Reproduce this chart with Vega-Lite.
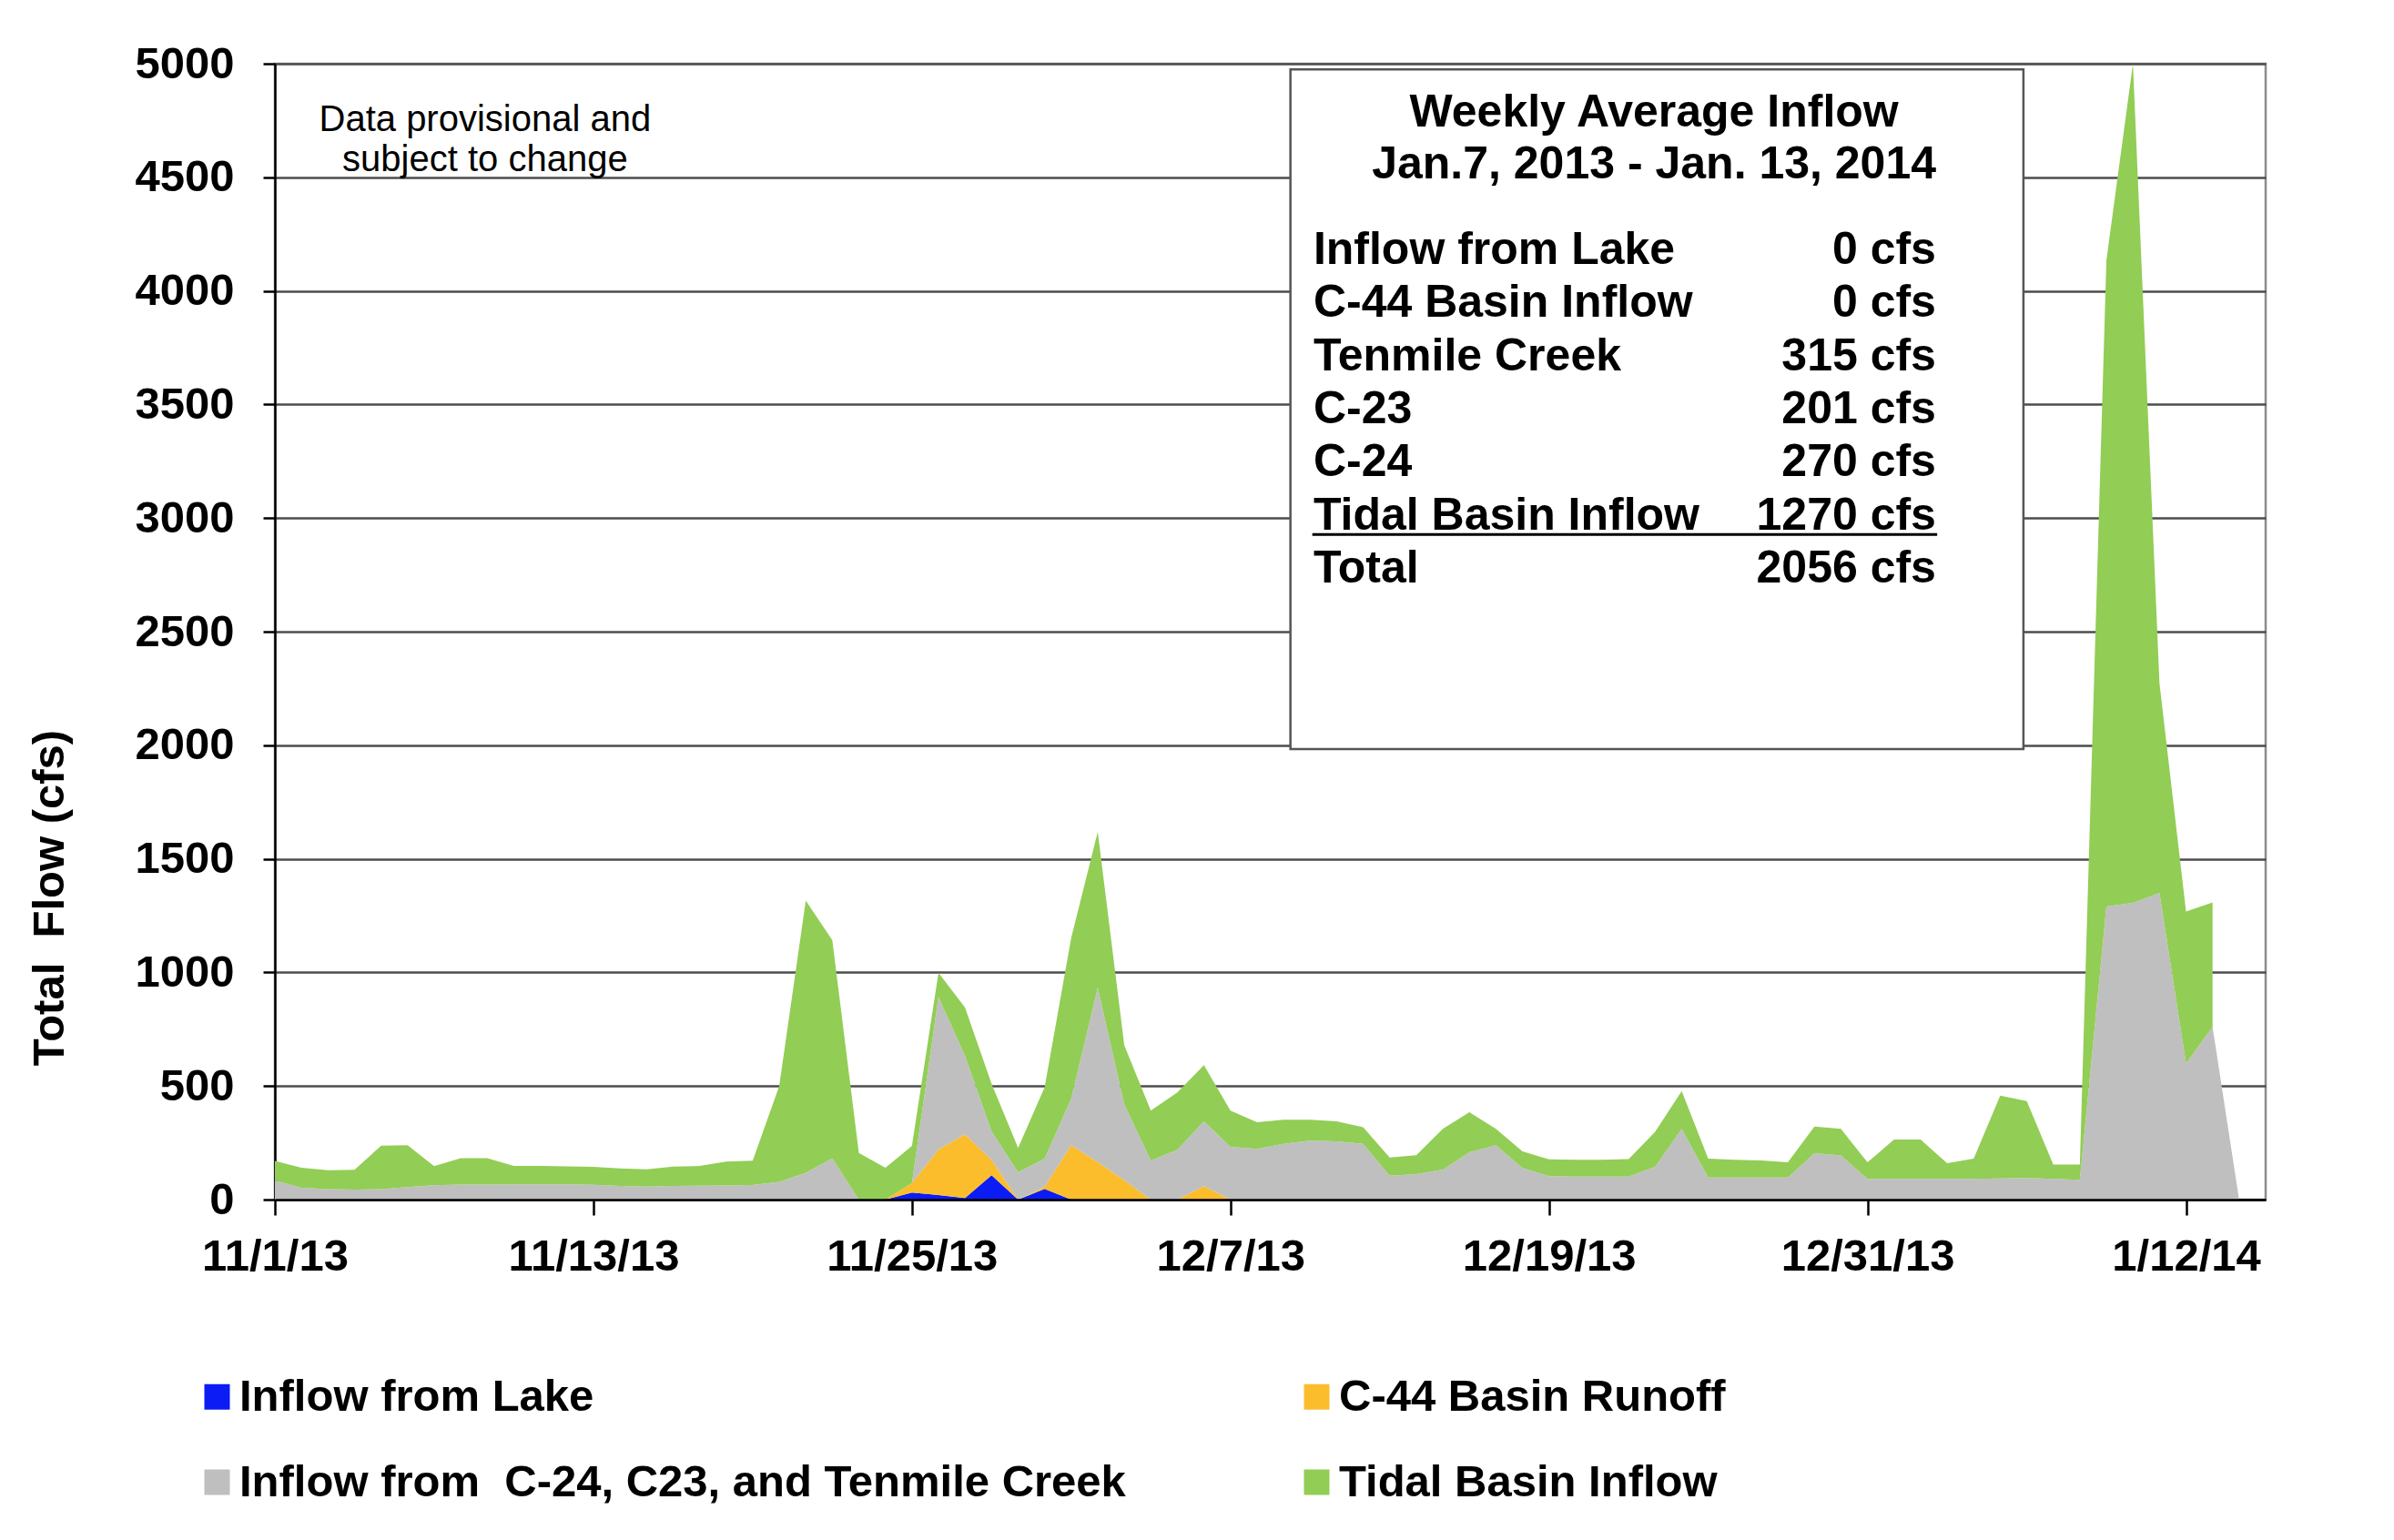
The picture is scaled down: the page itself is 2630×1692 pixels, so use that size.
{
  "$schema": "https://vega.github.io/schema/vega-lite/v6.json",
  "width": 2187,
  "height": 1248,
  "autosize": {"type": "none"},
  "padding": {"left": 302, "top": 70, "right": 141, "bottom": 374},
  "background": "white",
  "config": {
    "font": "Liberation Sans",
    "view": {"stroke": "#8c8c8c", "strokeWidth": 2.5}
  },
  "layer": [
    {
      "data": {
        "values": [
          {"date": "2013-11-01", "lake": 0, "runoff": 0, "streams": 84, "tidal": 86},
          {"date": "2013-11-02", "lake": 0, "runoff": 0, "streams": 52, "tidal": 88},
          {"date": "2013-11-03", "lake": 0, "runoff": 0, "streams": 46, "tidal": 83},
          {"date": "2013-11-04", "lake": 0, "runoff": 0, "streams": 44, "tidal": 87},
          {"date": "2013-11-05", "lake": 0, "runoff": 0, "streams": 46, "tidal": 191},
          {"date": "2013-11-06", "lake": 0, "runoff": 0, "streams": 55, "tidal": 184},
          {"date": "2013-11-07", "lake": 0, "runoff": 0, "streams": 63, "tidal": 84},
          {"date": "2013-11-08", "lake": 0, "runoff": 0, "streams": 66, "tidal": 116},
          {"date": "2013-11-09", "lake": 0, "runoff": 0, "streams": 66, "tidal": 116},
          {"date": "2013-11-10", "lake": 0, "runoff": 0, "streams": 67, "tidal": 81},
          {"date": "2013-11-11", "lake": 0, "runoff": 0, "streams": 67, "tidal": 81},
          {"date": "2013-11-12", "lake": 0, "runoff": 0, "streams": 67, "tidal": 79},
          {"date": "2013-11-13", "lake": 0, "runoff": 0, "streams": 65, "tidal": 79},
          {"date": "2013-11-14", "lake": 0, "runoff": 0, "streams": 60, "tidal": 77},
          {"date": "2013-11-15", "lake": 0, "runoff": 0, "streams": 57, "tidal": 76},
          {"date": "2013-11-16", "lake": 0, "runoff": 0, "streams": 60, "tidal": 85},
          {"date": "2013-11-17", "lake": 0, "runoff": 0, "streams": 61, "tidal": 87},
          {"date": "2013-11-18", "lake": 0, "runoff": 0, "streams": 62, "tidal": 105},
          {"date": "2013-11-19", "lake": 0, "runoff": 0, "streams": 64, "tidal": 107},
          {"date": "2013-11-20", "lake": 0, "runoff": 0, "streams": 78, "tidal": 422},
          {"date": "2013-11-21", "lake": 0, "runoff": 0, "streams": 118, "tidal": 1198},
          {"date": "2013-11-22", "lake": 0, "runoff": 0, "streams": 181, "tidal": 961},
          {"date": "2013-11-23", "lake": 0, "runoff": 0, "streams": 0, "tidal": 205},
          {"date": "2013-11-24", "lake": 0, "runoff": 0, "streams": 0, "tidal": 140},
          {"date": "2013-11-25", "lake": 31, "runoff": 42, "streams": 0, "tidal": 163},
          {"date": "2013-11-26", "lake": 20, "runoff": 200, "streams": 672, "tidal": 107},
          {"date": "2013-11-27", "lake": 7, "runoff": 280, "streams": 345, "tidal": 213},
          {"date": "2013-11-28", "lake": 107, "runoff": 67, "streams": 126, "tidal": 210},
          {"date": "2013-11-29", "lake": 0, "runoff": 0, "streams": 120, "tidal": 107},
          {"date": "2013-11-30", "lake": 47, "runoff": 10, "streams": 123, "tidal": 315},
          {"date": "2013-12-01", "lake": 0, "runoff": 239, "streams": 206, "tidal": 707},
          {"date": "2013-12-02", "lake": 0, "runoff": 165, "streams": 767, "tidal": 687},
          {"date": "2013-12-03", "lake": 0, "runoff": 85, "streams": 334, "tidal": 260},
          {"date": "2013-12-04", "lake": 0, "runoff": 0, "streams": 172, "tidal": 220},
          {"date": "2013-12-05", "lake": 0, "runoff": 0, "streams": 219, "tidal": 253},
          {"date": "2013-12-06", "lake": 0, "runoff": 59, "streams": 286, "tidal": 247},
          {"date": "2013-12-07", "lake": 0, "runoff": 0, "streams": 232, "tidal": 160},
          {"date": "2013-12-08", "lake": 0, "runoff": 0, "streams": 223, "tidal": 118},
          {"date": "2013-12-09", "lake": 0, "runoff": 0, "streams": 245, "tidal": 107},
          {"date": "2013-12-10", "lake": 0, "runoff": 0, "streams": 259, "tidal": 93},
          {"date": "2013-12-11", "lake": 0, "runoff": 0, "streams": 256, "tidal": 89},
          {"date": "2013-12-12", "lake": 0, "runoff": 0, "streams": 245, "tidal": 74},
          {"date": "2013-12-13", "lake": 0, "runoff": 0, "streams": 105, "tidal": 80},
          {"date": "2013-12-14", "lake": 0, "runoff": 0, "streams": 112, "tidal": 83},
          {"date": "2013-12-15", "lake": 0, "runoff": 0, "streams": 132, "tidal": 180},
          {"date": "2013-12-16", "lake": 0, "runoff": 0, "streams": 208, "tidal": 177},
          {"date": "2013-12-17", "lake": 0, "runoff": 0, "streams": 239, "tidal": 73},
          {"date": "2013-12-18", "lake": 0, "runoff": 0, "streams": 139, "tidal": 73},
          {"date": "2013-12-19", "lake": 0, "runoff": 0, "streams": 103, "tidal": 74},
          {"date": "2013-12-20", "lake": 0, "runoff": 0, "streams": 101, "tidal": 74},
          {"date": "2013-12-21", "lake": 0, "runoff": 0, "streams": 101, "tidal": 74},
          {"date": "2013-12-22", "lake": 0, "runoff": 0, "streams": 101, "tidal": 77},
          {"date": "2013-12-23", "lake": 0, "runoff": 0, "streams": 144, "tidal": 154},
          {"date": "2013-12-24", "lake": 0, "runoff": 0, "streams": 311, "tidal": 167},
          {"date": "2013-12-25", "lake": 0, "runoff": 0, "streams": 97, "tidal": 83},
          {"date": "2013-12-26", "lake": 0, "runoff": 0, "streams": 97, "tidal": 78},
          {"date": "2013-12-27", "lake": 0, "runoff": 0, "streams": 97, "tidal": 75},
          {"date": "2013-12-28", "lake": 0, "runoff": 0, "streams": 97, "tidal": 67},
          {"date": "2013-12-29", "lake": 0, "runoff": 0, "streams": 204, "tidal": 118},
          {"date": "2013-12-30", "lake": 0, "runoff": 0, "streams": 194, "tidal": 117},
          {"date": "2013-12-31", "lake": 0, "runoff": 0, "streams": 91, "tidal": 73},
          {"date": "2014-01-01", "lake": 0, "runoff": 0, "streams": 91, "tidal": 173},
          {"date": "2014-01-02", "lake": 0, "runoff": 0, "streams": 91, "tidal": 173},
          {"date": "2014-01-03", "lake": 0, "runoff": 0, "streams": 91, "tidal": 69},
          {"date": "2014-01-04", "lake": 0, "runoff": 0, "streams": 91, "tidal": 89},
          {"date": "2014-01-05", "lake": 0, "runoff": 0, "streams": 93, "tidal": 365},
          {"date": "2014-01-06", "lake": 0, "runoff": 0, "streams": 95, "tidal": 339},
          {"date": "2014-01-07", "lake": 0, "runoff": 0, "streams": 91, "tidal": 63},
          {"date": "2014-01-08", "lake": 0, "runoff": 0, "streams": 87, "tidal": 67},
          {"date": "2014-01-09", "lake": 0, "runoff": 0, "streams": 1290, "tidal": 2844},
          {"date": "2014-01-10", "lake": 0, "runoff": 0, "streams": 1306, "tidal": 3694},
          {"date": "2014-01-11", "lake": 0, "runoff": 0, "streams": 1350, "tidal": 923},
          {"date": "2014-01-12", "lake": 0, "runoff": 0, "streams": 600, "tidal": 668},
          {"date": "2014-01-13", "lake": 0, "runoff": 0, "streams": 760, "tidal": 548},
          {"date": "2014-01-14", "lake": 0, "runoff": 0, "streams": 0, "tidal": null}
        ]
      },
      "transform": [
        {"fold": ["lake", "runoff", "streams", "tidal"], "as": ["series", "flow"]},
        {"filter": "isValid(datum.flow)"},
        {"stack": "flow", "groupby": ["date"], "sort": [{"field": "series", "order": "ascending"}], "as": ["y0", "y1"]}
      ],
      "mark": {"type": "area", "opacity": 1, "interpolate": "linear"},
      "encoding": {
        "x": {
          "field": "date",
          "type": "temporal",
          "scale": {
            "type": "utc",
            "nice": false,
            "domain": [
              {"year": 2013, "month": 11, "date": 1, "utc": true},
              {"year": 2014, "month": 1, "date": 15, "utc": true}
            ]
          },
          "axis": {
            "title": null,
            "grid": false,
            "values": [
              {"year": 2013, "month": 11, "date": 1, "utc": true},
              {"year": 2013, "month": 11, "date": 13, "utc": true},
              {"year": 2013, "month": 11, "date": 25, "utc": true},
              {"year": 2013, "month": 12, "date": 7, "utc": true},
              {"year": 2013, "month": 12, "date": 19, "utc": true},
              {"year": 2013, "month": 12, "date": 31, "utc": true},
              {"year": 2014, "month": 1, "date": 12, "utc": true}
            ],
            "format": "%-m/%-d/%y",
            "labelFont": "Liberation Sans",
            "labelFontSize": 49,
            "labelFontWeight": "bold",
            "labelColor": "black",
            "labelPadding": 21,
            "labelLimit": 1000,
            "labelFlush": false,
            "labelOverlap": false,
            "tickSize": 17,
            "tickWidth": 2.5,
            "tickColor": "black",
            "domainColor": "black",
            "domainWidth": 2.5,
            "zindex": 1
          }
        },
        "y": {
          "field": "y1",
          "type": "quantitative",
          "scale": {"domain": [0, 5000], "nice": false},
          "axis": {
            "title": "Total\u00a0 Flow (cfs)",
            "titleFont": "Liberation Sans",
            "titleFontSize": 49,
            "titleFontWeight": "bold",
            "titleColor": "black",
            "titleX": -248,
            "titleY": 916,
            "titleAlign": "center",
            "titleBaseline": "middle",
            "values": [0, 500, 1000, 1500, 2000, 2500, 3000, 3500, 4000, 4500, 5000],
            "format": "d",
            "labelFont": "Liberation Sans",
            "labelFontSize": 49,
            "labelFontWeight": "bold",
            "labelColor": "black",
            "labelPadding": 32,
            "labelLimit": 1000,
            "tickSize": 13,
            "tickWidth": 2.5,
            "tickColor": "black",
            "domainColor": "black",
            "domainWidth": 2.5,
            "grid": true,
            "gridColor": "#4d4d4d",
            "gridWidth": 2.5,
            "zindex": 0
          }
        },
        "y2": {"field": "y0"},
        "color": {
          "field": "series",
          "type": "nominal",
          "scale": {
            "domain": ["lake", "streams", "runoff", "tidal"],
            "range": ["#0b1cf4", "#bfbfbf", "#fbbd2c", "#92cd55"]
          },
          "legend": {
            "orient": "none",
            "legendX": -88,
            "legendY": 1440,
            "columns": 2,
            "title": null,
            "padding": 0,
            "symbolType": "square",
            "symbolSize": 784,
            "symbolStrokeWidth": 0,
            "symbolOpacity": 1,
            "labelFont": "Liberation Sans",
            "labelFontSize": 49,
            "labelFontWeight": "bold",
            "labelColor": "black",
            "labelLimit": 3000,
            "labelOffset": 0,
            "rowPadding": 44,
            "columnPadding": 185,
            "labelExpr": "datum.label == 'lake' ? 'Inflow from Lake' : datum.label == 'runoff' ? 'C-44 Basin Runoff' : datum.label == 'streams' ? 'Inflow from\u00a0 C-24, C23, and Tenmile Creek' : 'Tidal Basin Inflow'"
          }
        }
      }
    },
    {
      "data": {"values": [{}]},
      "mark": {"type": "rect", "fill": "white", "stroke": "#555555", "strokeWidth": 2.5},
      "encoding": {
        "x": {"datum": {"year": 2013, "month": 12, "date": 9, "hours": 6, "minutes": 14, "utc": true}, "type": "temporal"},
        "x2": {"datum": {"year": 2014, "month": 1, "date": 5, "hours": 21, "utc": true}},
        "y": {"datum": 4975, "type": "quantitative"},
        "y2": {"datum": 1983}
      }
    },
    {
      "data": {"values": [{}]},
      "mark": {"type": "text", "align": "center", "baseline": "alphabetic", "font": "Liberation Sans", "fontSize": 50, "fontWeight": "bold", "color": "black", "lineHeight": 57},
      "encoding": {
        "x": {"datum": {"year": 2013, "month": 12, "date": 22, "hours": 23, "utc": true}, "type": "temporal"},
        "y": {"datum": 4722, "type": "quantitative"},
        "text": {"value": ["Weekly Average Inflow", "Jan.7, 2013 - Jan. 13, 2014"]}
      }
    },
    {
      "data": {"values": [{}]},
      "mark": {"type": "text", "align": "left", "baseline": "alphabetic", "font": "Liberation Sans", "fontSize": 50, "fontWeight": "bold", "color": "black", "lineHeight": 58.3},
      "encoding": {
        "x": {"datum": {"year": 2013, "month": 12, "date": 10, "hours": 3, "utc": true}, "type": "temporal"},
        "y": {"datum": 4118, "type": "quantitative"},
        "text": {"value": ["Inflow from Lake", "C-44 Basin Inflow", "Tenmile Creek", "C-23", "C-24", "Tidal Basin Inflow", "Total"]}
      }
    },
    {
      "data": {"values": [{}]},
      "mark": {"type": "text", "align": "right", "baseline": "alphabetic", "font": "Liberation Sans", "fontSize": 50, "fontWeight": "bold", "color": "black", "lineHeight": 58.3},
      "encoding": {
        "x": {"datum": {"year": 2014, "month": 1, "date": 2, "hours": 14, "utc": true}, "type": "temporal"},
        "y": {"datum": 4118, "type": "quantitative"},
        "text": {"value": ["0 cfs", "0 cfs", "315 cfs", "201 cfs", "270 cfs", "1270 cfs", "2056 cfs"]}
      }
    },
    {
      "data": {"values": [{}]},
      "mark": {"type": "rule", "strokeWidth": 3, "color": "black"},
      "encoding": {
        "x": {"datum": {"year": 2013, "month": 12, "date": 10, "hours": 2, "utc": true}, "type": "temporal"},
        "x2": {"datum": {"year": 2014, "month": 1, "date": 2, "hours": 15, "utc": true}},
        "y": {"datum": 2928, "type": "quantitative"}
      }
    },
    {
      "data": {"values": [{}]},
      "mark": {"type": "text", "align": "center", "baseline": "alphabetic", "font": "Liberation Sans", "fontSize": 40, "fontWeight": "normal", "color": "black", "lineHeight": 44},
      "encoding": {
        "x": {"datum": {"year": 2013, "month": 11, "date": 8, "hours": 22, "utc": true}, "type": "temporal"},
        "y": {"datum": 4705, "type": "quantitative"},
        "text": {"value": ["Data provisional and", "subject to change"]}
      }
    }
  ]
}
